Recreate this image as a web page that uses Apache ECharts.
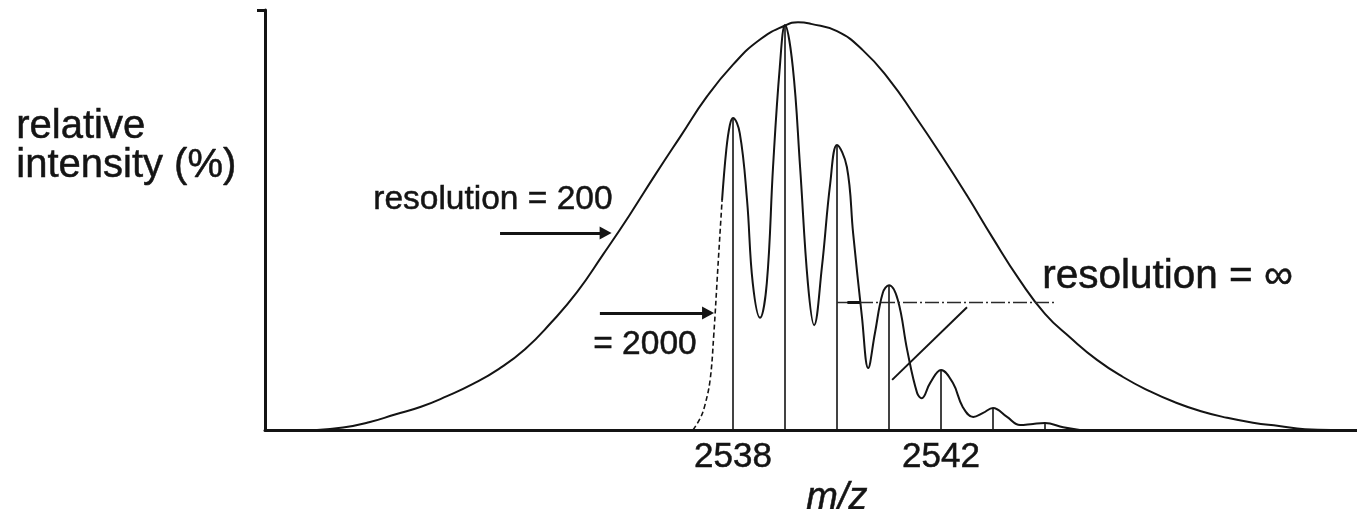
<!DOCTYPE html>
<html>
<head>
<meta charset="utf-8">
<script src="https://cdn.jsdelivr.net/npm/echarts@6/dist/echarts.min.js"></script>
<style>
  html, body { margin: 0; padding: 0; background: #fff; }
  #chart { width: 1357px; height: 509px; }
</style>
</head>
<body>
<div id="chart"></div>
<script>
// Isotope sticks (resolution = infinity)
const isotopeMz = [2538, 2539, 2540, 2541, 2542, 2543, 2544];
const isotopeIntensity = [76.5, 99.3, 69.9, 35.5, 14.7, 5.4, 1.7];

// Unresolved envelope (resolution = 200)
const envelopeMz = [2530.0, 2530.5, 2531.0, 2531.5, 2532.0, 2532.5, 2533.0, 2533.5, 2534.0,
  2534.5, 2535.0, 2535.5, 2536.0, 2536.5, 2537.0, 2537.5, 2538.0, 2538.5, 2539.0,
  2539.25, 2539.5, 2540.0, 2540.5, 2541.0, 2541.5, 2542.0, 2542.5, 2543.0, 2543.5,
  2544.0, 2544.5, 2545.0, 2545.5, 2546.0, 2546.5, 2547.0, 2547.5, 2548.0, 2548.5,
  2549.0, 2549.5];
const envelopeIntensity = [0, 0.6, 1.9, 3.8, 5.7, 8.3, 11.3, 15.0, 19.8,
  26.3, 33.8, 43.0, 52.5, 62.5, 72.2, 81.8, 89.6, 95.6, 99.2,
  100, 99.6, 97.8, 93.1, 86.0, 77.0, 67.5, 57.5, 47.0, 37.0,
  28.5, 22.5, 17.2, 13.0, 9.6, 6.8, 4.6, 3.0, 1.8, 1.0,
  0.2, 0];

// Partly resolved profile (resolution = 2000): leading edge drawn dashed
const risingMz = [2537.23, 2537.37, 2537.46, 2537.56, 2537.63, 2537.71, 2537.79];
const risingIntensity = [0, 2.9, 6.1, 12.3, 23.3, 40.0, 56.4];

const profileMz = [2537.79, 2537.87, 2537.94, 2538.0, 2538.13, 2538.27, 2538.38, 2538.52, 2538.65,
  2538.77, 2538.90, 2539.0, 2539.15, 2539.29, 2539.44, 2539.56, 2539.71, 2539.87, 2540.0,
  2540.19, 2540.31, 2540.48, 2540.60, 2540.73, 2540.88, 2541.0, 2541.17, 2541.35, 2541.54,
  2541.63, 2541.79, 2542.0, 2542.23, 2542.42, 2542.62, 2542.81, 2543.0, 2543.27, 2543.52,
  2543.77, 2544.0, 2544.35, 2544.67];
const profileIntensity = [56.4, 68.6, 74.8, 76.5, 72.8, 56.4, 36.0, 27.5, 36.0,
  64.5, 89.0, 99.3, 89.0, 64.5, 36.0, 25.7, 40.0, 60.5, 69.9,
  64.5, 48.3, 27.7, 15.2, 23.8, 33.6, 35.5, 31.9, 19.6, 9.1,
  7.8, 11.5, 14.7, 11.5, 5.6, 3.2, 4.2, 5.4, 3.2, 1.2,
  1.5, 1.7, 0.7, 0];

const tickLabels = [2538, 2542];

const zip = (xs, ys) => xs.map((x, i) => [x, ys[i]]);
const ink = '#141414';
const sans = '"Liberation Sans", Arial, Helvetica, sans-serif';
const textStyle = (text, font) => ({ text, font, fill: ink, stroke: ink, lineWidth: 0.5 });

const chart = echarts.init(document.getElementById('chart'), null, { renderer: 'canvas' });

chart.setOption({
  animation: false,
  backgroundColor: '#ffffff',
  grid: { left: 265, right: 0, top: 10, bottom: 79, containLabel: false },
  xAxis: {
    type: 'value',
    min: 2529,
    max: 2550,
    axisLine: { show: true, onZero: false, lineStyle: { color: ink, width: 3 } },
    axisTick: { show: false },
    splitLine: { show: false },
    axisLabel: {
      customValues: tickLabels,
      formatter: (v) => String(v),
      margin: 10,
      fontSize: 35,
      fontFamily: sans,
      color: ink,
      textBorderColor: ink,
      textBorderWidth: 0.5
    }
  },
  yAxis: {
    type: 'value',
    min: 0,
    max: 103,
    axisLine: { show: true, lineStyle: { color: ink, width: 3 } },
    axisTick: { show: true, customValues: [103], length: 8, lineStyle: { color: ink, width: 3 } },
    axisLabel: { show: false },
    splitLine: { show: false }
  },
  series: [
    {
      name: 'resolution = 200',
      type: 'line',
      data: zip(envelopeMz, envelopeIntensity),
      smooth: 0.5,
      showSymbol: false,
      lineStyle: { color: ink, width: 2 },
      z: 3
    },
    {
      name: 'resolution = 2000 (leading edge)',
      type: 'line',
      data: zip(risingMz, risingIntensity),
      smooth: 0.4,
      showSymbol: false,
      lineStyle: { color: ink, width: 1.6, type: [5, 3] },
      z: 3
    },
    {
      name: 'resolution = 2000',
      type: 'line',
      data: zip(profileMz, profileIntensity),
      smooth: 0.4,
      showSymbol: false,
      lineStyle: { color: ink, width: 2 },
      z: 3,
      markLine: {
        silent: true,
        animation: false,
        label: { show: false },
        data: [
          // arrow towards the resolution = 200 envelope
          [
            { coord: [2533.52, 48.3], symbol: 'none', lineStyle: { color: ink, width: 3, type: 'solid' } },
            { coord: [2535.55, 48.3], symbol: 'triangle', symbolSize: [13, 12], symbolRotate: -90 }
          ],
          // arrow towards the resolution = 2000 profile
          [
            { coord: [2535.44, 28.7], symbol: 'none', lineStyle: { color: ink, width: 3, type: 'solid' } },
            { coord: [2537.52, 28.7], symbol: 'triangle', symbolSize: [13, 12], symbolRotate: -90 }
          ],
          // leader from "resolution = ∞" to the 2540 stick
          [
            { coord: [2540.0, 31.4], symbol: 'none', lineStyle: { color: '#2a2a2a', width: 1.4, type: [14, 3, 2, 3] } },
            { coord: [2544.23, 31.4], symbol: 'none' }
          ],
          [
            { coord: [2540.2, 31.4], symbol: 'none', lineStyle: { color: ink, width: 3, type: 'solid' } },
            { coord: [2540.45, 31.4], symbol: 'none' }
          ],
          // leader to the 2541 stick
          [
            { coord: [2542.5, 30.1], symbol: 'none', lineStyle: { color: ink, width: 2, type: 'solid' } },
            { coord: [2541.06, 12.3], symbol: 'none' }
          ]
        ]
      }
    },
    {
      name: 'resolution = ∞',
      type: 'bar',
      data: zip(isotopeMz, isotopeIntensity),
      barWidth: 1.6,
      itemStyle: { color: ink },
      z: 2
    }
  ],
  graphic: [
    { type: 'text', left: 16, top: 107, style: textStyle('relative', '40px ' + sans) },
    { type: 'text', left: 16, top: 146, style: textStyle('intensity (%)', '40px ' + sans) },
    { type: 'text', left: 373, top: 183, style: textStyle('resolution = 200', '33.5px ' + sans) },
    { type: 'text', left: 593, top: 328, style: textStyle('= 2000', '33.5px ' + sans) },
    { type: 'text', left: 1042, top: 256, style: textStyle('resolution = ∞', '40.5px ' + sans) },
    { type: 'text', left: 806, top: 479, style: textStyle('m/z', 'italic 38px ' + sans) }
  ]
});
</script>
</body>
</html>
